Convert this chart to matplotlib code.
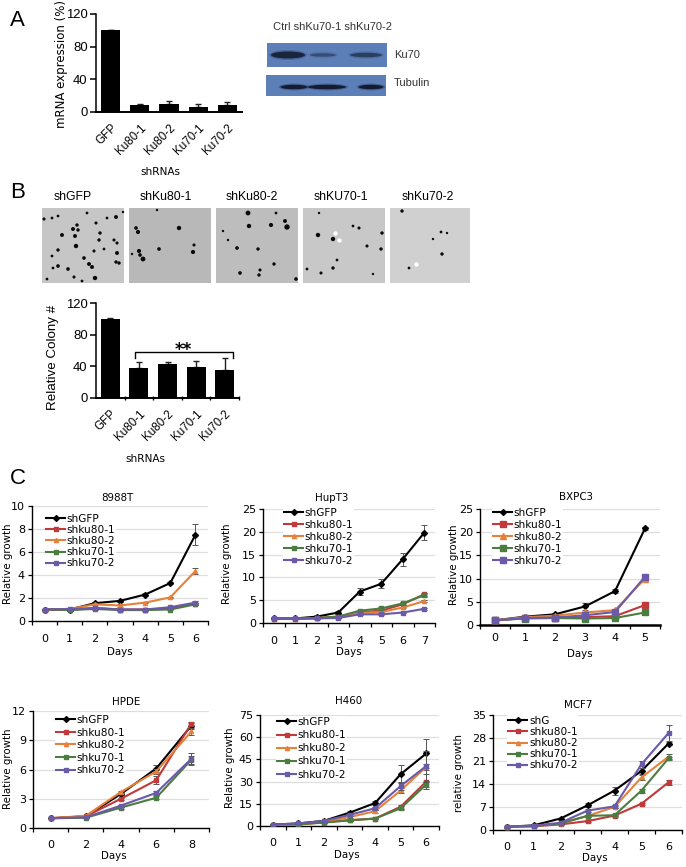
import matplotlib
matplotlib.use('Agg')
import matplotlib.pyplot as plt
from matplotlib.patches import Rectangle, Ellipse
from matplotlib.transforms import ScaledTranslation

W, H = 686, 867
plt.rcParams['font.family'] = ['DejaVu Sans']

bar_labels = ['GFP', 'Ku80-1', 'Ku80-2', 'Ku70-1', 'Ku70-2']
mrna_vals = [100, 8, 10, 6, 8]
mrna_err = [0.5, 2, 3.5, 4, 4]
colony_vals = [100, 37.5, 43.5, 39, 36]
colony_err = [0.5, 8, 2, 8, 14]

series_names = ['shGFP', 'shku80-1', 'shku80-2', 'shku70-1', 'shku70-2']
mcf7_names = ['shG', 'shku80-1', 'shku80-2', 'shku70-1', 'shku70-2']
colors = ['#000000', '#c0393b', '#e5813b', '#4a7d3f', '#6a5aa8']
markers = ['D', 's', '^', 's', 's']

days_7 = ['0', '1', '2', '3', '4', '5', '6']
days_8 = ['0', '1', '2', '3', '4', '5', '6', '7']
days_6 = ['0', '1', '2', '3', '4', '5']
days_even = ['0', '2', '4', '6', '8']

t8988 = [[1, 1, 1.55, 1.75, 2.3, 3.3, 7.5],
         [1, 0.95, 1.15, 1, 1, 1.1, 1.5],
         [1, 1.05, 1.45, 1.35, 1.6, 2.05, 4.35],
         [1, 0.95, 1.05, 0.95, 0.95, 1, 1.45],
         [1, 1.05, 1.1, 1, 1, 1.2, 1.6]]
t8988_err = [[0.05, 0.05, 0.1, 0.1, 0.1, 0.1, 0.9],
             [0, 0.1, 0.1, 0.05, 0.05, 0.05, 0.1],
             [0, 0.05, 0.1, 0.1, 0.05, 0.05, 0.25],
             [0, 0.05, 0.05, 0.05, 0.05, 0.05, 0.1],
             [0, 0.05, 0.05, 0.05, 0.05, 0.05, 0.1]]

hupt3 = [[1, 1, 1.4, 2.3, 6.9, 8.6, 14, 19.8],
         [0.9, 0.9, 1.1, 1.4, 2.4, 2.7, 4.1, 6.3],
         [0.9, 0.9, 1, 1.3, 2.2, 2.4, 3.4, 4.8],
         [0.9, 0.9, 1.1, 1.4, 2.7, 3.2, 4.3, 6.1],
         [1, 1, 1, 1.1, 1.9, 1.9, 2.3, 3.1]]
hupt3_err = [[0.1, 0.1, 0.3, 0.3, 0.7, 1, 1.4, 1.6],
             [0, 0, 0.1, 0.1, 0.2, 0.2, 0.2, 0.3],
             [0, 0, 0.1, 0.1, 0.2, 0.2, 0.2, 0.2],
             [0, 0, 0.1, 0.1, 0.2, 0.3, 0.3, 0.3],
             [0, 0, 0.1, 0.1, 0.1, 0.1, 0.2, 0.2]]

bxpc3 = [[1, 1.8, 2.3, 4, 7.3, 20.8],
         [1, 1.5, 1.6, 1.7, 1.9, 4.3],
         [1, 1.7, 2, 2.7, 3.2, 10],
         [1, 1.4, 1.5, 1.4, 1.5, 2.7],
         [1, 1.5, 1.6, 2.1, 2.8, 10.4]]
bxpc3_err = [[0, 0.1, 0.2, 0.8, 0.4, 0.3],
             [0, 0.1, 0.1, 0.1, 0.1, 0.2],
             [0, 0.1, 0.1, 0.2, 0.2, 0.6],
             [0, 0.1, 0.1, 0.5, 0.3, 0.6],
             [0, 0.1, 0.1, 0.2, 0.3, 0.5]]

hpde = [[1, 1.2, 3.5, 6.1, 10.5],
        [1, 1.2, 3, 4.9, 10.7],
        [1, 1.25, 3.7, 5.8, 9.9],
        [1, 1.05, 2.1, 3.1, 7],
        [1, 1.1, 2.3, 3.6, 7.1]]
hpde_err = [[0, 0.05, 0.15, 0.4, 0.3],
            [0, 0.05, 0.1, 0.4, 0.2],
            [0, 0.05, 0.1, 0.3, 0.4],
            [0, 0.05, 0.1, 0.15, 0.4],
            [0, 0.05, 0.1, 0.2, 0.6]]

h460 = [[1, 1.7, 3.5, 9, 15.5, 35, 49],
        [0.5, 1, 2.5, 4, 5, 13, 30],
        [0.5, 1, 2.8, 6, 10, 24, 40],
        [1, 1.2, 2.3, 3.8, 5, 12, 28],
        [1, 1.7, 3.5, 7.5, 12, 27, 40.5]]
h460_err = [[0.2, 0.2, 0.5, 1, 1.5, 6, 9.5],
            [0, 0.1, 0.3, 0.5, 0.6, 1.5, 5],
            [0, 0.1, 0.3, 0.5, 1, 2, 2],
            [0, 0.1, 0.3, 0.5, 0.6, 1.5, 1.5],
            [0.2, 0.2, 0.5, 1, 1, 3, 10]]

mcf7 = [[1, 1.4, 3.5, 7.5, 12, 18, 26.3],
        [1, 1.1, 1.7, 2.7, 4.4, 8, 14.5],
        [1, 1.2, 2, 4.3, 7, 16, 22.3],
        [1, 1.2, 2, 4.3, 4.5, 12, 21.8],
        [1, 1.3, 2.2, 5.9, 7.2, 20, 29.5]]
mcf7_err = [[0, 0.1, 0.3, 0.6, 1.2, 1, 0.5],
            [0, 0.1, 0.2, 0.2, 0.2, 0.3, 0.8],
            [0, 0.1, 0.2, 0.3, 0.4, 0.8, 0.7],
            [0, 0.1, 0.2, 0.3, 0.4, 0.6, 0.5],
            [0, 0.1, 0.2, 0.4, 0.5, 1, 2.4]]

colony_titles = ['shGFP', 'shKu80-1', 'shKu80-2', 'shKU70-1', 'shKu70-2']
colony_title_x = [73, 166, 252, 341, 428]
colony_boxes = [(42, 124), (129, 211), (216, 298), (303, 385), (390, 470)]
colony_grey = ['#c6c6c6', '#b8b8b8', '#bdbdbd', '#c8c8c8', '#d0d0d0']
# colony spots, picture pixels
dots_x = [44, 52, 58, 87, 107, 116, 123, 62, 73, 78, 77, 75, 96, 100, 99, 114, 117,
          58, 76, 94, 104, 117, 52, 84, 89, 92, 116, 119, 58, 53, 68, 74, 82, 95, 47,
          157, 136, 138, 179, 194, 193, 159, 139, 143, 140, 132,
          248, 276, 249, 271, 285, 287, 223, 228, 237, 258, 274, 260, 259, 240, 296,
          319, 318, 333, 353, 359, 382, 367, 381, 337, 333, 321, 307, 373,
          402, 441, 447, 433, 442, 409]
dots_y = [219, 218, 216, 213, 218, 217, 212, 235, 229, 230, 225, 236, 223, 233, 240, 240, 243,
          250, 246, 251, 249, 253, 256, 258, 264, 267, 262, 263, 266, 268, 269, 277, 281, 278, 279,
          210, 228, 232, 228, 245, 252, 249, 251, 259, 255, 254,
          213, 213, 226, 225, 221, 227, 231, 240, 248, 249, 264, 270, 275, 273, 279,
          213, 235, 239, 226, 228, 233, 246, 249, 260, 268, 273, 269, 274,
          211, 232, 233, 239, 254, 268]
dots_size = [5, 4, 4, 4, 4, 8, 3, 8, 8, 6, 6, 8, 5, 6, 6, 5, 5,
             6, 10, 5, 4, 8, 4, 7, 8, 8, 6, 6, 7, 4, 7, 5, 4, 10, 4,
             3, 7, 9, 10, 5, 9, 7, 9, 12, 7, 3,
             12, 4, 10, 9, 8, 15, 3, 3, 7, 6, 6, 5, 6, 7, 7,
             3, 10, 10, 4, 5, 6, 5, 6, 4, 6, 5, 4, 3,
             6, 4, 3, 3, 6, 4]
white_x = [335, 339, 416]
white_y = [233, 240, 264]

ku70_x = [288, 323, 366]
ku70_w = [34, 26, 32]
ku70_h = [7, 3.5, 4.5]
ku70_dark = [0.9, 0.45, 0.6]
tub_x = [294, 327, 371]
tub_w = [27, 38, 25]


def place(left, top, right, bottom):
    return fig.add_axes([left / W, 1 - bottom / H, (right - left) / W, (bottom - top) / H])


def bar_panel(box, vals, err):
    ax = place(*box)
    x = range(len(vals))
    ax.bar(x, vals, width=0.66, color='black', zorder=2)
    ax.errorbar(x, vals, yerr=[[0] * len(err), err], fmt='none', ecolor='#222222',
                elinewidth=1, capsize=2.5, zorder=1)
    ax.set_xlim(-0.5, 4.5)
    ax.set_ylim(0, 120)
    ax.set_yticks([0, 40, 80, 120])
    ax.set_xticks(list(x))
    ax.set_xticklabels(bar_labels, rotation=45, ha='right', rotation_mode='anchor',
                       fontsize=8.4, family='Liberation Sans')
    shift = ScaledTranslation(-6 / 72 * 0.72, -3 / 72 * 0.72, fig.dpi_scale_trans)
    for lab in ax.get_xticklabels():
        lab.set_transform(lab.get_transform() + shift)
    ax.tick_params(axis='x', length=0, pad=7)
    ax.tick_params(axis='y', length=4, width=1.1, pad=2)
    for lab in ax.get_yticklabels():
        lab.set_family('Liberation Sans')
        lab.set_fontsize(9.4)
    for s in ['top', 'right']:
        ax.spines[s].set_visible(False)
    ax.spines['left'].set_linewidth(1.1)
    ax.spines['bottom'].set_linewidth(1.4)
    return ax


def growth_panel(box, data, err, days, names, title, ylabel, ymax, step, legend_at, pitch,
                 title_pos, xlabel_pos, ylabel_pos, tick_pad=9, big=False):
    ax = place(*box)
    n = len(days)
    fs = 7.6
    for i in range(5):
        ax.errorbar(range(n), data[i], yerr=err[i], fmt='none', ecolor='#555555',
                    elinewidth=0.7, capsize=2, capthick=0.7, zorder=3 + i)
        ms = 3 if not big or i == 0 else 5
        ax.plot(range(n), data[i], color=colors[i], marker=markers[i], ms=ms, lw=1.5,
                label=names[i], zorder=3 + i)
    ax.set_xlim(-0.5, n - 0.5)
    ax.set_ylim(0, ymax)
    ax.set_yticks(list(range(0, ymax + 1, step)))
    ax.yaxis.grid(True, color='#dedede', lw=0.9)
    ax.set_axisbelow(True)
    ax.set_xticks([i - 0.5 for i in range(n + 1)])
    ax.set_xticklabels([])
    ax.set_xticks(list(range(n)), minor=True)
    ax.set_xticklabels(days, minor=True)
    ax.tick_params(axis='x', which='major', length=3, width=0.9)
    ax.tick_params(axis='x', which='minor', length=0, labelsize=8, pad=tick_pad)
    ax.tick_params(axis='y', length=3, width=0.9, labelsize=8, pad=2)
    for s in ['top', 'right']:
        ax.spines[s].set_visible(False)
    ax.spines['left'].set_linewidth(1)
    ax.spines['bottom'].set_linewidth(1.8 if big else 1)
    spacing = (pitch - 10.2) / 10.55
    leg = ax.legend(loc='upper left', bbox_to_anchor=legend_at, fontsize=fs, frameon=True,
                    framealpha=1, edgecolor='none', facecolor='white', borderpad=0.1,
                    labelspacing=spacing, handlelength=1.8, handletextpad=0.15, borderaxespad=0)
    leg.set_zorder(2)
    px.text(*title_pos, title, fontsize=7.4, ha='center', va='center')
    px.text(*xlabel_pos, 'Days', fontsize=7.4, ha='center', va='center')
    px.text(*ylabel_pos, ylabel, fontsize=7.4, rotation=90, ha='center', va='center')
    return ax


fig = plt.figure(figsize=(W / 100, H / 100), dpi=100)

# overlay in picture pixels for gels, colony photos and labels
px = fig.add_axes([0, 0, 1, 1])
px.set_xlim(0, W)
px.set_ylim(H, 0)
px.axis('off')

for letter, yy in zip('ABC', [20, 192, 478]):
    px.text(10, yy, letter, fontsize=16, family='Liberation Sans', ha='left', va='center')

# panel A
bar_panel((96, 14, 242, 112), mrna_vals, mrna_err)
px.text(61, 64, 'mRNA expression (%)', rotation=90, fontsize=8.5, ha='center', va='center')
px.text(160, 172, 'shRNAs', fontsize=7.6, ha='center', va='center')

px.add_patch(Rectangle((267, 43), 120, 24, color='#5c7fb8', lw=0))
px.add_patch(Rectangle((266, 75), 120, 21, color='#5c7fb8', lw=0))
for xc, bw, bh, dark in zip(ku70_x, ku70_w, ku70_h, ku70_dark):
    px.add_patch(Ellipse((xc, 55), bw + 4, bh + 3, color='#2a3a60', lw=0, alpha=0.35 * dark))
    px.add_patch(Ellipse((xc, 55), bw, bh, color='#141d33', lw=0, alpha=dark))
for xc, bw in zip(tub_x, tub_w):
    px.add_patch(Ellipse((xc, 87), bw + 4, 7, color='#2a3a60', lw=0, alpha=0.4))
    px.add_patch(Ellipse((xc, 87), bw, 4.5, color='#131c33', lw=0))
arial = dict(family='Liberation Sans', va='center')
px.text(273, 27, 'Ctrl shKu70-1 shKu70-2', fontsize=8, color='#333333', **arial)
px.text(394, 55, 'Ku70', fontsize=8, color='#333333', **arial)
px.text(394, 83, 'Tubulin', fontsize=8, color='#333333', **arial)

# panel B photos
for (x0, x1), grey in zip(colony_boxes, colony_grey):
    px.add_patch(Rectangle((x0, 208), x1 - x0, 75, color=grey, lw=0))
for tx, name in zip(colony_title_x, colony_titles):
    px.text(tx, 197, name, fontsize=8.8, family='Liberation Sans', ha='center', va='center')
px.scatter(dots_x, dots_y, s=dots_size, color='#0a0a0a', lw=0)
px.scatter(white_x, white_y, s=10, color='white', lw=0)

# panel B bars
ax_b = bar_panel((96, 303, 239, 398), colony_vals, colony_err)
ax_b.plot([0.88, 0.88, 4.3, 4.3], [50.5, 58, 58, 50.5], color='black', lw=1)
ax_b.text(2.55, 61, '**', fontsize=12, fontweight='bold', ha='center', va='center')
ax_b.set_xticks([i + 0.5 for i in range(5)], minor=True)
ax_b.tick_params(axis='x', which='minor', length=3, width=1, direction='inout')
px.text(53, 357, 'Relative Colony #', rotation=90, fontsize=9.6, family='Liberation Sans',
        ha='center', va='center')
px.text(145, 459, 'shRNAs', fontsize=7.6, ha='center', va='center')

# panel C
growth_panel((32, 506, 208, 621), t8988, t8988_err, days_7, series_names, '8988T', 'Relative growth',
             10, 2, (0.074, 0.94), 11.3, (117, 498), (120, 652), (8, 564))
growth_panel((263, 509, 435, 623), hupt3, hupt3_err, days_8, series_names, 'HupT3', 'Relative growth',
             25, 5, (0.116, 1.02), 12.2, (332, 498), (349, 652), (227, 564))
growth_panel((480, 509, 660, 625), bxpc3, bxpc3_err, days_6, series_names, 'BXPC3', 'Relative growth',
             25, 5, (0.067, 1.02), 12.2, (576, 497), (580, 654), (454, 565), tick_pad=6, big=True)
growth_panel((33, 711, 209, 828), hpde, hpde_err, days_even, series_names, 'HPDE', 'Relative growth',
             12, 3, (0.125, 0.975), 12.8, (126, 702), (114, 856), (8, 769))
growth_panel((260, 715, 439, 826), h460, h460_err, days_7, series_names, 'H460', 'Relative growth',
             75, 15, (0.09, 0.99), 13.3, (349, 701), (347, 855), (230, 768))
growth_panel((493, 715, 682, 830), mcf7, mcf7_err, days_7, mcf7_names, 'MCF7', 'relative growth',
             35, 7, (0.076, 1.0), 11.3, (578, 705), (595, 858), (459, 773))

fig.savefig('out.png', dpi=100)
